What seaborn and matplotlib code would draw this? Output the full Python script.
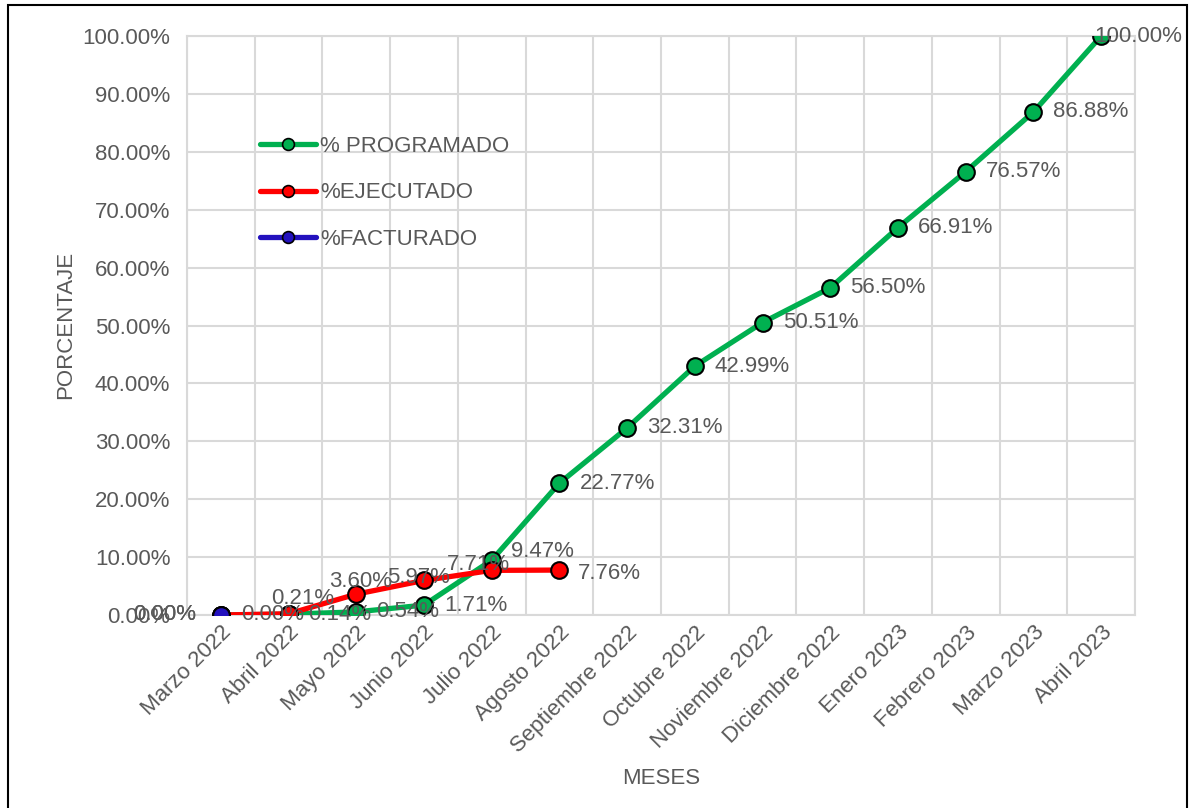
import matplotlib
matplotlib.use("Agg")
import matplotlib.pyplot as plt
import pandas as pd
import seaborn as sns
from matplotlib.patches import Rectangle
from matplotlib.lines import Line2D

# ---------------- data ----------------
meses = ["Marzo 2022", "Abril 2022", "Mayo 2022", "Junio 2022", "Julio 2022",
         "Agosto 2022", "Septiembre 2022", "Octubre 2022", "Noviembre 2022",
         "Diciembre 2022", "Enero 2023", "Febrero 2023", "Marzo 2023", "Abril 2023"]
programado = [0.00, 0.14, 0.54, 1.71, 9.47, 22.77, 32.31, 42.99, 50.51,
              56.50, 66.91, 76.57, 86.88, 100.00]
ejecutado = [0.00, 0.21, 3.60, 5.97, 7.71, 7.76]
facturado = [0.00]
series_names = ["% PROGRAMADO", "%EJECUTADO", "%FACTURADO"]
yticks = list(range(0, 101, 10))

# ---------------- styles ----------------
colors = ["#00B050", "#FF0000", "#2311BE"]
text_color = "#595959"
grid_color = "#D9D9D9"
fs = 16
# label offsets in pixels (dx, dy, ha)
prog_lab = [(20, 0, "left")] * 4 + [(19, 9, "left")] + [(20, 0, "left")] * 8 + [(-7, 0, "left")]
ejec_lab = [(-25, 0, "right"), (14, 15, "center"), (4, 13, "center"),
            (-6, 3, "center"), (-13, 6, "center"), (18, -3, "left")]
fact_lab = [(-25, 0, "right")]

sns.set_theme(style="whitegrid")
plt.rcParams["font.family"] = ["Liberation Sans", "DejaVu Sans"]

fig = plt.figure(figsize=(11.9, 8.08), dpi=100)
ax = fig.add_axes([187 / 1190, 1 - 615 / 808, (1135 - 187) / 1190, (615 - 36) / 808])

frames = []
for name, vals in zip(series_names, [programado, ejecutado, facturado]):
    frames.append(pd.DataFrame({"x": range(len(vals)), "mes": meses[:len(vals)],
                                "valor": vals, "serie": name}))
df = pd.concat(frames, ignore_index=True)

for name, col in zip(series_names, colors):
    sub = df[df["serie"] == name]
    sns.lineplot(data=sub, x="x", y="valor", ax=ax, color=col, linewidth=3.8,
                 marker="o", markersize=12, markeredgecolor="black",
                 markeredgewidth=1.5, legend=False, zorder=3)

# data labels
for name, labs in zip(series_names, [prog_lab, ejec_lab, fact_lab]):
    sub = df[df["serie"] == name]
    for (xv, yv), (dx, dy, ha) in zip(zip(sub["x"], sub["valor"]), labs):
        ax.annotate(f"{yv:.2f}%", (xv, yv), xytext=(dx * 0.72, dy * 0.72),
                    textcoords="offset points", ha=ha, va="center",
                    fontsize=fs, color=text_color, zorder=5,
                    annotation_clip=False)

ax.set_xlim(-0.5, len(meses) - 0.5)
ax.set_ylim(0, 100)
ax.set_yticks(yticks)
ax.set_yticklabels([f"{v:.2f}%" for v in yticks])
ax.set_xticks(range(len(meses)))
ax.set_xticklabels(meses, rotation=45, ha="right", va="top", rotation_mode="anchor")
ax.set_xticks([i - 0.5 for i in range(len(meses) + 1)], minor=True)
ax.grid(False)
ax.grid(True, axis="y", which="major", color=grid_color, linewidth=1.5)
ax.grid(True, axis="x", which="minor", color=grid_color, linewidth=1.5)
ax.tick_params(axis="both", which="both", length=0, labelsize=fs, colors=text_color)
ax.tick_params(axis="x", pad=5)
ax.tick_params(axis="y", pad=12)
for sp in ax.spines.values():
    sp.set_color(grid_color)
    sp.set_linewidth(1.5)
ax.set_facecolor("white")

ax.set_xlabel("MESES", fontsize=fs, color=text_color)
ax.set_ylabel("PORCENTAJE", fontsize=fs, color=text_color)
ax.xaxis.set_label_coords((661 - 187) / 948, -(768 - 615) / 579)
ax.yaxis.set_label_coords(-(187 - 76) / 948, (615 - 325) / 579)

handles = [Line2D([0], [0], color=c, linewidth=3.8, marker="o", markersize=8.5,
                  markeredgecolor="black", markeredgewidth=1.2) for c in colors]
leg = ax.legend(handles, series_names, loc="upper left",
                bbox_to_anchor=(0.056, 0.862), frameon=False, fontsize=fs,
                labelspacing=1.15, handlelength=2.5, handletextpad=0.2)
for t in leg.get_texts():
    t.set_color(text_color)

fig.patches.append(Rectangle((8 / 1190, -0.01), (1187 - 8) / 1190, 1.01 - 5 / 808,
                             transform=fig.transFigure, fill=False,
                             edgecolor="black", linewidth=1.5))

fig.savefig("out.png", dpi=100, facecolor="white")
